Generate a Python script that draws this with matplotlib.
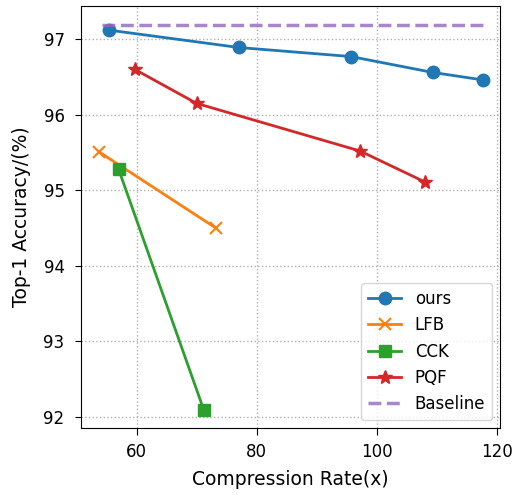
import matplotlib
matplotlib.use("Agg")
from matplotlib import pyplot as plt

# Dados
ours_x = [55.4, 77.0, 95.7, 109.3, 117.7]
ours_y = [97.12, 96.89, 96.77, 96.56, 96.46]
lfb_x = [53.7, 73.2]
lfb_y = [95.51, 94.50]
cck_x = [57.0, 71.2]
cck_y = [95.28, 92.09]
pqf_x = [59.7, 70.0, 97.2, 108.0]
pqf_y = [96.60, 96.15, 95.52, 95.11]
base_x = [54.3, 117.7]
base_y = [97.19, 97.19]

fig = plt.figure(figsize=(5.13, 4.95), dpi=100)
ax = fig.add_axes([0.157, 0.135, 0.818, 0.853])

ax.plot(ours_x, ours_y, marker='o', markersize=9, linewidth=2, color='#1f77b4', label='ours')
ax.plot(lfb_x, lfb_y, marker='x', markersize=9, markeredgewidth=1.5, linewidth=2, color='#ff7f0e', label='LFB')
ax.plot(cck_x, cck_y, marker='s', markersize=9, linewidth=2, color='#2ca02c', label='CCK')
ax.plot(pqf_x, pqf_y, marker='*', markersize=10, linewidth=2, color='#d62728', label='PQF')
ax.plot(base_x, base_y, linestyle='--', linewidth=2.5, color='#9467bd', alpha=0.8, label='Baseline')

ax.set_xlim(50.67, 120.55)
ax.set_ylim(91.85, 97.44)
ax.set_xticks([60, 80, 100, 120])
ax.set_yticks([92, 93, 94, 95, 96, 97])
ax.tick_params(axis='y', labelsize=12, length=4.5, pad=7)
ax.tick_params(axis='x', labelsize=12, length=5, pad=6)
ax.grid(True, linestyle=':', color='#b0b0b0', linewidth=1)
ax.set_xlabel("Compression Rate(x)", fontsize=13.5, labelpad=6)
ax.set_ylabel("Top-1 Accuracy/(%)", fontsize=13.5, labelpad=9)
ax.legend(loc='lower right', fontsize=12)

fig.savefig("out.png", dpi=100)
